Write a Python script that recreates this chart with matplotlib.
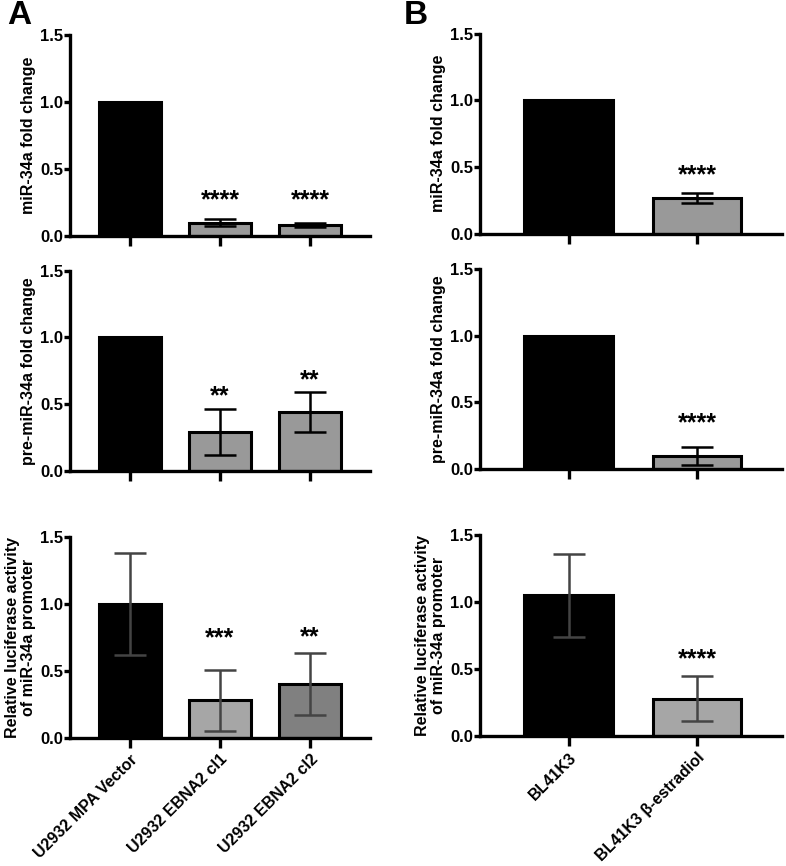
import numpy as np
import matplotlib
matplotlib.use("Agg")
import matplotlib.pyplot as plt

plt.rcParams["font.family"] = ["Liberation Sans", "DejaVu Sans"]
plt.rcParams["font.weight"] = "bold"

# panel A data
a_labels = ["U2932 MPA Vector", "U2932 EBNA2 cl1", "U2932 EBNA2 cl2"]
a_mir = [1.0, 0.10, 0.08]
a_mir_err = [0.0, 0.025, 0.015]
a_pre = [1.0, 0.29, 0.44]
a_pre_err = [0.0, 0.175, 0.15]
a_luc = [1.0, 0.28, 0.40]
a_luc_err = [0.38, 0.23, 0.23]
a_stars = [["", "****", "****"], ["", "**", "**"], ["", "***", "**"]]
a_star_y = [[0, 0.27, 0.265], [0, 0.555, 0.68], [0, 0.74, 0.75]]

# panel B data
b_labels = ["BL41K3", "BL41K3 β-estradiol"]
b_mir = [1.0, 0.27]
b_mir_err = [0.0, 0.035]
b_pre = [1.0, 0.095]
b_pre_err = [0.0, 0.068]
b_luc = [1.05, 0.28]
b_luc_err = [0.31, 0.17]
b_stars = [["", "****"], ["", "****"], ["", "****"]]
b_star_y = [[0, 0.44], [0, 0.343], [0, 0.575]]

ylabels = ["miR-34a fold change", "pre-miR-34a fold change",
           "Relative luciferase activity\nof miR-34a promoter"]

W, H = 786, 866
fig = plt.figure(figsize=(W / 100, H / 100), dpi=100)

rows_px = [(35, 236), (270.7, 470.7), (536.7, 738)]


def make_ax(left, right, top, bottom):
    return fig.add_axes([left / W, 1 - bottom / H, (right - left) / W, (bottom - top) / H])


def draw(ax, vals, errs, colors, ecolor, stars, star_y, xlim, labels=None, ylabel=""):
    x = np.arange(len(vals))
    ax.bar(x, vals, width=0.69, color=colors, edgecolor="black", linewidth=2.2, zorder=2)
    for xi, v, e in zip(x, vals, errs):
        if e > 0:
            ax.errorbar(xi, v, yerr=e, fmt="none", ecolor=ecolor, elinewidth=1.8,
                        capsize=11.5, capthick=1.8, zorder=3)
    for xi, s, sy in zip(x, stars, star_y):
        if s:
            ax.text(xi, sy, s, ha="center", va="center", fontsize=18, fontweight="bold")
    ax.set_xlim(*xlim)
    ax.set_ylim(0, 1.5)
    ax.set_yticks([0, 0.5, 1.0, 1.5])
    ax.set_yticklabels(["0.0", "0.5", "1.0", "1.5"])
    ax.set_xticks(x)
    if labels:
        ax.set_xticklabels(labels, rotation=45, ha="right", rotation_mode="anchor",
                           fontsize=11.5, fontweight="bold")
    else:
        ax.set_xticklabels([])
    for side in ["top", "right"]:
        ax.spines[side].set_visible(False)
    for side in ["left", "bottom"]:
        ax.spines[side].set_linewidth(2.4)
    ax.tick_params(axis="y", length=4, width=2.4, labelsize=12, pad=1)
    ax.tick_params(axis="x", length=7, width=2.4, pad=3)
    ax.set_ylabel(ylabel, fontsize=11.5, fontweight="bold", labelpad=3, linespacing=1.05)


gray = "#999999"
a_vals = [(a_mir, a_mir_err), (a_pre, a_pre_err), (a_luc, a_luc_err)]
b_vals = [(b_mir, b_mir_err), (b_pre, b_pre_err), (b_luc, b_luc_err)]
for r, (top, bottom) in enumerate(rows_px):
    axa = make_ax(70, 370, top, bottom)
    axb = make_ax(480, 781.7, top - 1.5, bottom - 2)
    last = r == 2
    a_cols = ["black", "#a6a6a6", "#808080"] if last else ["black", gray, gray]
    ecol = "#444444" if last else "black"
    draw(axa, a_vals[r][0], a_vals[r][1], a_cols, ecol, a_stars[r], a_star_y[r],
         (-0.667, 2.667), a_labels if last else None, ylabels[r])
    b_cols = ["black", "#a6a6a6"] if last else ["black", gray]
    draw(axb, b_vals[r][0], b_vals[r][1], b_cols, ecol, b_stars[r], b_star_y[r],
         (-0.69, 1.66), b_labels if last else None, ylabels[r])

fig.text(7 / W, 1 - 15 / H, "A", fontsize=24, fontweight="bold", va="center")
fig.text(404 / W, 1 - 15 / H, "B", fontsize=24, fontweight="bold", va="center")

fig.savefig("out.png", dpi=100)
